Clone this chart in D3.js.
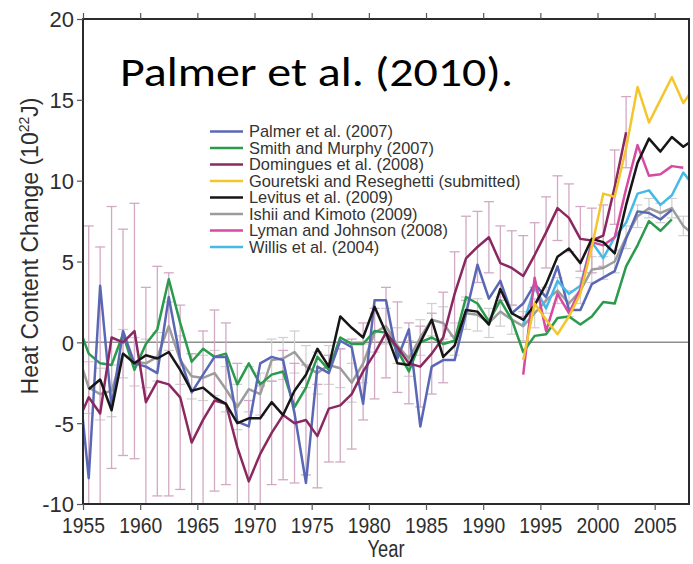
<!DOCTYPE html>
<html>
<head>
<meta charset="utf-8">
<script src="https://cdn.jsdelivr.net/npm/d3@7"></script>
<style>
  html, body { margin: 0; padding: 0; background: #fff; }
  svg { display: block; }
</style>
</head>
<body>
<svg id="chart" width="693" height="564"></svg>
<script>
// Ocean heat content change estimates, annual values (10^22 J)
const xTicks = [1955, 1960, 1965, 1970, 1975, 1980, 1985, 1990, 1995, 2000, 2005];
const yTicks = [-10, -5, 0, 5, 10, 15, 20];

const palmerStart = 1954;
const palmer = [-1.3, -8.4, 3.5, -4.0, 0.7, -1.3, -1.5, -1.9, 2.8, -1.0, -3.1, -2.0, -0.9, -0.9,
  -4.9, -5.2, -1.3, -0.9, -1.1, -4.4, -8.7, -1.5, -1.9, 0.1, -0.3, -3.8, 2.6, 2.6, -1.0, 0.8,
  -5.2, -1.5, -1.1, -1.1, 1.8, 4.8, 2.7, 3.8, 1.8, 2.4, 3.6, 2.8, 4.7, 2.0, 2.0, 3.6, 4.0, 4.4,
  6.4, 8.1, 8.0, 7.6, 8.2];

const smithStart = 1954;
const smith = [1.2, -0.7, -1.3, -1.4, 0.5, -1.7, -0.1, 0.8, 3.9, 1.2, -1.2, -0.4, -0.9, -0.7,
  -2.6, -1.3, -2.6, -2.0, -1.8, -4.0, -2.8, -0.9, -1.7, 0.3, -0.1, -0.1, 0.7, 0.6, -0.5, -1.8,
  0.0, 0.3, -0.1, 0.1, 2.8, 2.4, 1.3, 2.6, 1.4, -0.6, 0.4, 0.5, 1.5, 1.6, 1.1, 1.6, 2.5, 2.4,
  4.7, 6.0, 7.5, 6.9, 7.6];

const domStart = 1954;
const domingues = [-5.0, -3.4, -4.4, 0.3, 0.0, 0.7, -3.7, -2.4, -2.6, -3.4, -6.2, -4.8, -3.6,
  -3.8, -6.5, -8.6, -6.9, -5.6, -4.5, -5.0, -4.8, -5.8, -4.1, -3.9, -3.2, -1.8, -0.7, 0.6, -0.3,
  -1.3, -1.5, -0.7, 0.3, 3.0, 5.2, 5.9, 6.5, 4.9, 4.6, 4.1, 5.4, 6.8, 8.3, 7.7, 6.4, 6.3, 6.6,
  9.6, 13.0];
// half-width of the Domingues uncertainty bars
const domErr = [10.5, 10.6, 10.3, 8.1, 7.0, 7.9, 7.1, 7.1, 6.9, 5.7, 5.5, 5.5, 5.6, 5.0, 5.2,
  5.0, 4.2, 3.2, 4.0, 3.7, 3.4, 3.2, 3.3, 3.5, 3.4, 3.0, 2.8, 2.8, 2.8, 2.5, 2.5, 2.5, 2.8, 2.6,
  2.6, 2.2, 2.2, 2.3, 2.3, 2.5, 2.0, 2.2, 2.0, 2.1, 2.0, 2.0, 1.9, 2.3, 2.2];

const gouretskiStart = 1993;
const gouretski = [-1.1, 2.4, 1.4, 0.5, 1.6, 3.0, 5.9, 9.2, 9.0, 12.0, 15.8, 13.6, 15.0, 16.4,
  14.8, 15.8];

const levitusStart = 1955;
const levitus = [-2.9, -2.3, -4.2, -0.7, -1.3, -0.8, -1.0, -0.6, -1.7, -3.0, -2.8, -3.4, -3.8,
  -5.0, -4.7, -4.7, -3.7, -4.5, -3.0, -2.0, -0.4, -1.5, 1.6, 0.9, 0.3, 2.2, 0.6, -1.3, -1.4,
  0.0, 1.4, -0.9, -0.2, 2.0, 1.9, 1.1, 3.3, 1.8, 1.4, 2.3, 3.6, 5.3, 5.8, 4.9, 6.4, 6.2, 5.5,
  8.5, 11.1, 12.6, 11.8, 12.7, 12.1, 12.6];

const ishiiStart = 1954;
const ishii = [-0.6, -2.8, -3.2, -3.0, -0.7, -1.2, -1.3, -0.9, 1.0, -1.1, -2.1, -2.2, -1.9,
  -2.9, -4.0, -2.9, -3.2, -1.1, -1.0, -0.6, -1.5, -1.9, -1.4, -1.6, -2.5, -1.3, 0.6, 1.0, -0.2,
  -1.0, 0.3, 1.4, 1.2, 0.2, 1.8, 1.7, 1.2, 1.9, 1.4, 1.0, 1.8, 2.6, 3.2, 2.4, 3.2, 4.5, 4.6,
  5.0, 6.5, 7.8, 8.3, 8.0, 8.3, 7.2, 6.6];
// half-width of the Ishii uncertainty bars
const ishiiErr = [1.6, 1.6, 1.6, 1.6, 1.5, 1.5, 1.5, 1.5, 1.5, 1.5, 1.4, 1.4, 1.4, 1.4, 1.4,
  1.4, 1.3, 1.3, 1.3, 1.3, 1.3, 1.3, 1.2, 1.2, 1.2, 1.2, 1.2, 1.1, 1.1, 1.1, 1.1, 1.0, 1.0,
  1.0, 1.0, 1.0, 0.9, 0.9, 0.9, 0.9, 0.9, 0.8, 0.8, 0.8, 0.8, 0.8, 0.7, 0.7, 0.7, 0.7, 0.6,
  0.6, 0.6, 0.6, 0.6];

const lymanStart = 1993;
const lyman = [-2.0, 4.0, 0.7, 3.0, 1.8, 3.3, 6.2, 6.0, 6.5, 9.5, 12.2, 10.3, 10.4, 10.9, 10.8];

const willisStart = 1993;
const willis = [1.1, 3.4, 2.1, 3.8, 3.0, 3.5, 6.2, 5.2, 6.5, 7.4, 9.2, 9.4, 8.5, 9.1, 10.5, 9.6];

const seriesNames = [
  "Palmer et al. (2007)",
  "Smith and Murphy (2007)",
  "Domingues et al. (2008)",
  "Gouretski and Reseghetti (submitted)",
  "Levitus et al. (2009)",
  "Ishii and Kimoto (2009)",
  "Lyman and Johnson (2008)",
  "Willis et al. (2004)"
];
const seriesColors = ["#5a67b5", "#2a9a4c", "#8a2860", "#f4c62e", "#161616", "#9c9c9c", "#d64a9f", "#45b9e8"];

const series = [
  { name: seriesNames[0], color: seriesColors[0], start: palmerStart, values: palmer },
  { name: seriesNames[1], color: seriesColors[1], start: smithStart, values: smith },
  { name: seriesNames[2], color: seriesColors[2], start: domStart, values: domingues },
  { name: seriesNames[3], color: seriesColors[3], start: gouretskiStart, values: gouretski },
  { name: seriesNames[4], color: seriesColors[4], start: levitusStart, values: levitus },
  { name: seriesNames[5], color: seriesColors[5], start: ishiiStart, values: ishii },
  { name: seriesNames[6], color: seriesColors[6], start: lymanStart, values: lyman },
  { name: seriesNames[7], color: seriesColors[7], start: willisStart, values: willis }
];
const drawOrder = [5, 1, 0, 2, 7, 6, 4, 3];

const svg = d3.select("#chart");
const plotLeft = 83, plotRight = 689, plotTop = 19, plotBottom = 504;

const x = d3.scaleLinear().domain([1955, 2008]).range([plotLeft, plotRight]);
const y = d3.scaleLinear().domain([-10, 20]).range([plotBottom, plotTop]);

// annual means are placed at mid-year
const pts = s => s.values.map((v, i) => ({ year: s.start + i + 0.5, v }));

svg.append("defs").append("clipPath").attr("id", "plot-clip")
  .append("rect").attr("x", plotLeft).attr("y", plotTop)
  .attr("width", plotRight - plotLeft).attr("height", plotBottom - plotTop);

const plot = svg.append("g").attr("clip-path", "url(#plot-clip)");

// zero reference line
plot.append("line")
  .attr("x1", plotLeft).attr("x2", plotRight)
  .attr("y1", y(0)).attr("y2", y(0))
  .attr("stroke", "#8e8e8e").attr("stroke-width", 1.5);

// uncertainty bars
function errorBars(values, errs, start, color, capW, width) {
  const g = plot.append("g").attr("stroke", color).attr("stroke-width", width).attr("fill", "none");
  values.forEach((v, i) => {
    const cx = x(start + i + 0.5);
    const y0 = y(v - errs[i]), y1 = y(v + errs[i]);
    g.append("line").attr("x1", cx).attr("x2", cx).attr("y1", y0).attr("y2", y1);
    g.append("line").attr("x1", cx - capW).attr("x2", cx + capW).attr("y1", y0).attr("y2", y0);
    g.append("line").attr("x1", cx - capW).attr("x2", cx + capW).attr("y1", y1).attr("y2", y1);
  });
}
errorBars(ishii, ishiiErr, ishiiStart, "#cfcfcf", 5, 1.2);
errorBars(domingues, domErr, domStart, "#d2a9c4", 5, 1.3);

const line = d3.line()
  .x(d => x(d.year))
  .y(d => y(d.v))
  .curve(d3.curveLinear);

drawOrder.forEach(k => {
  const s = series[k];
  plot.append("path")
    .datum(pts(s))
    .attr("d", line)
    .attr("fill", "none")
    .attr("stroke", s.color)
    .attr("stroke-width", 2.5)
    .attr("stroke-linejoin", "round");
});

// frame
svg.append("rect")
  .attr("x", plotLeft).attr("y", plotTop)
  .attr("width", plotRight - plotLeft).attr("height", plotBottom - plotTop)
  .attr("fill", "none").attr("stroke", "#2b2b2b").attr("stroke-width", 2);

const axisFont = "'Liberation Sans', Arial, sans-serif";
const plainNumber = d => String(d);

// bottom axis
const xAxis = svg.append("g").attr("transform", `translate(0,${plotBottom})`)
  .call(d3.axisBottom(x).tickValues(xTicks).tickSize(6).tickSizeOuter(0).tickFormat(plainNumber));
xAxis.select(".domain").remove();
xAxis.selectAll(".tick line").attr("stroke", "#555").attr("stroke-width", 1.2);
xAxis.selectAll(".tick text")
  .attr("y", 29).attr("dy", null)
  .attr("font-family", axisFont).attr("font-size", 22).attr("fill", "#2e2e2e")
  .attr("textLength", 43).attr("lengthAdjust", "spacingAndGlyphs");

// top ticks
const xTop = svg.append("g").attr("transform", `translate(0,${plotTop})`)
  .call(d3.axisTop(x).tickValues(xTicks).tickSize(6).tickSizeOuter(0).tickFormat(""));
xTop.select(".domain").remove();
xTop.selectAll(".tick line").attr("stroke", "#555").attr("stroke-width", 1.2);

// left axis
const yAxis = svg.append("g").attr("transform", `translate(${plotLeft},0)`)
  .call(d3.axisLeft(y).tickValues(yTicks).tickSize(6).tickSizeOuter(0).tickFormat(plainNumber));
yAxis.select(".domain").remove();
yAxis.selectAll(".tick line").attr("stroke", "#555").attr("stroke-width", 1.2);
yAxis.selectAll(".tick text")
  .attr("x", -9).attr("dy", "0.36em")
  .attr("font-family", axisFont).attr("font-size", 22).attr("fill", "#2e2e2e");

// axis titles
svg.append("text")
  .attr("x", (plotLeft + plotRight) / 2).attr("y", 557)
  .attr("text-anchor", "middle")
  .attr("font-family", axisFont).attr("font-size", 23).attr("fill", "#2e2e2e")
  .attr("textLength", 37).attr("lengthAdjust", "spacingAndGlyphs")
  .text("Year");

const yTitle = svg.append("text")
  .attr("transform", "translate(38,246) rotate(-90)")
  .attr("text-anchor", "middle")
  .attr("font-family", axisFont).attr("font-size", 23).attr("fill", "#2e2e2e");
yTitle.append("tspan").text("Heat Content Change (10");
yTitle.append("tspan").attr("font-size", 14).attr("dy", -9).text("22");
yTitle.append("tspan").attr("dy", 9).text("J)");

// heading
svg.append("text")
  .attr("x", 120).attr("y", 86)
  .attr("font-family", "Carlito, Lato, 'Open Sans', sans-serif").attr("font-size", 41).attr("fill", "#000")
  .attr("textLength", 393).attr("lengthAdjust", "spacingAndGlyphs")
  .text("Palmer et al. (2010).");

// legend
const legend = svg.append("g");
series.forEach((s, i) => {
  const cy = 131.5 + i * 16.5;
  legend.append("line")
    .attr("x1", 210).attr("x2", 243).attr("y1", cy).attr("y2", cy)
    .attr("stroke", s.color).attr("stroke-width", 2.4);
  legend.append("text")
    .attr("x", 249).attr("y", cy).attr("dy", "0.36em")
    .attr("font-family", axisFont).attr("font-size", 16.4).attr("fill", "#333")
    .text(s.name);
});
</script>
</body>
</html>
